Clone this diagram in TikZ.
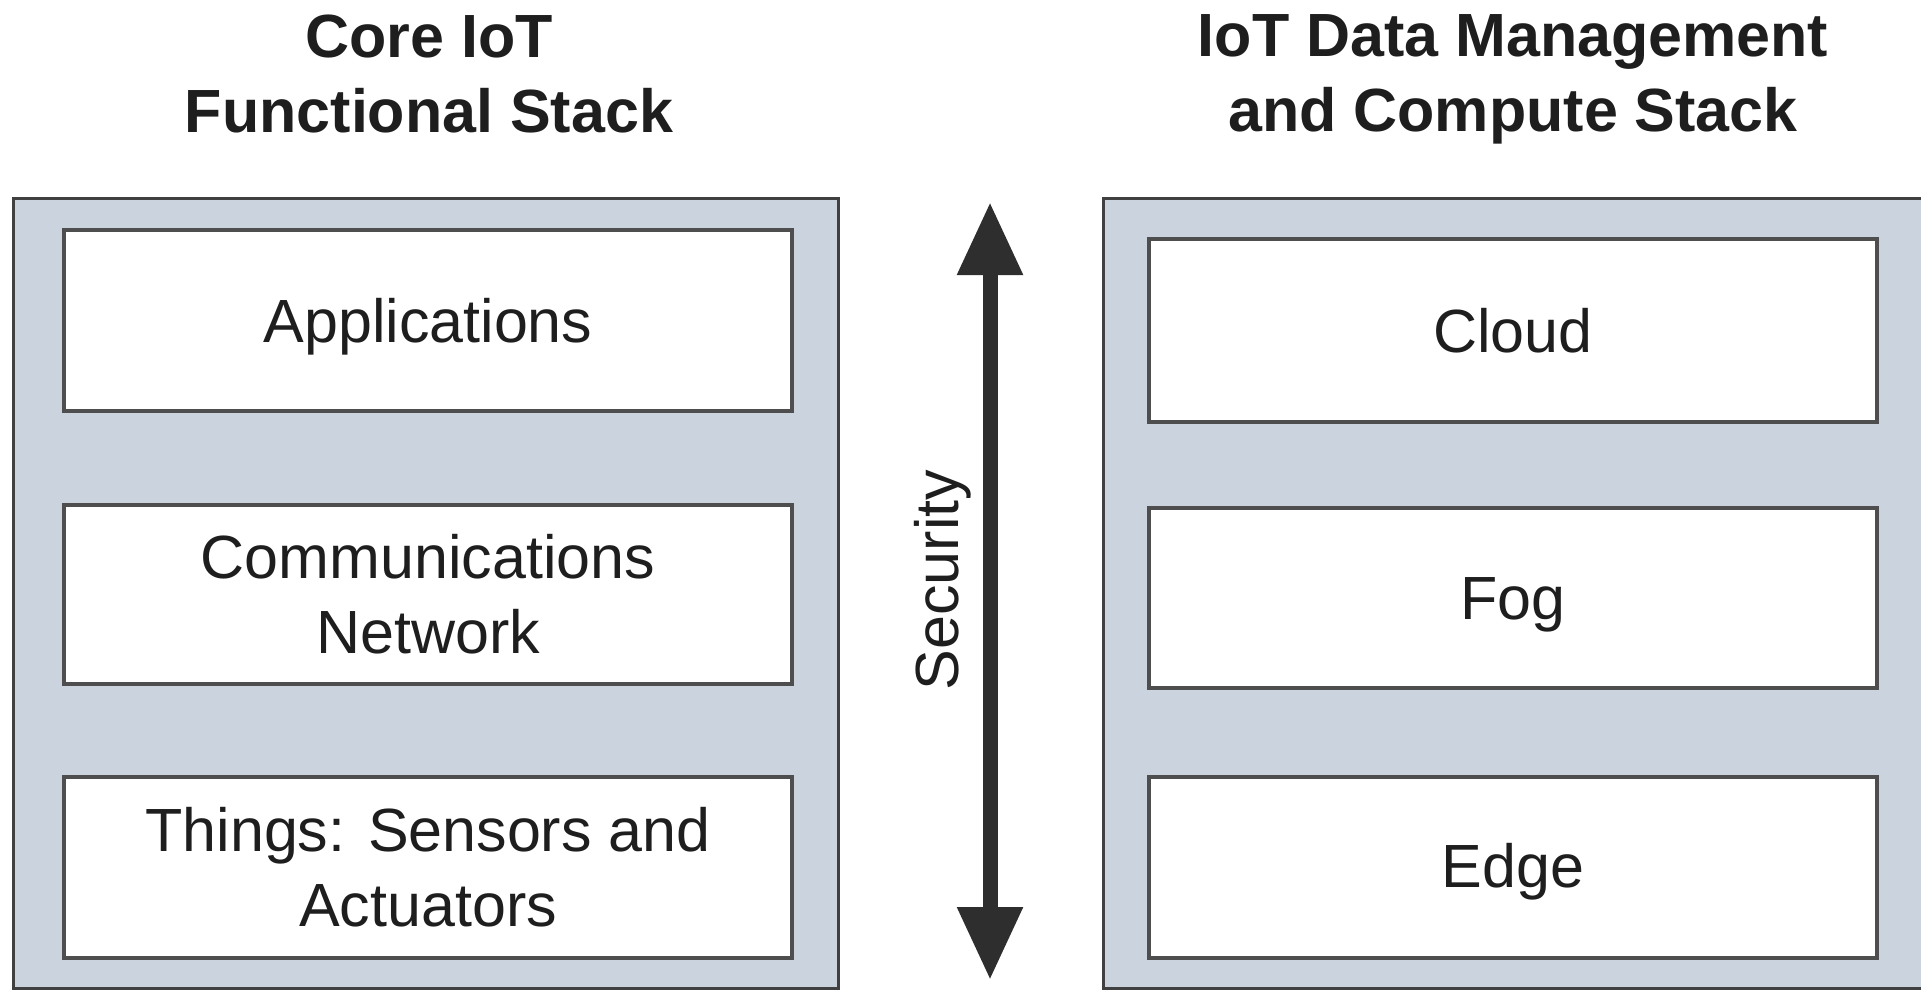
\documentclass[tikz,border=0pt]{standalone}
\usepackage{fontspec}
\setmainfont{Liberation Sans}
\usetikzlibrary{arrows.meta}
\definecolor{panelfill}{RGB}{203,211,223}
\definecolor{panelline}{RGB}{64,64,64}
\definecolor{boxline}{RGB}{78,78,78}
\definecolor{inkdark}{RGB}{30,30,30}
\definecolor{arrowdark}{RGB}{46,46,46}
\tikzset{
  panel/.style={draw=panelline, fill=panelfill, line width=3pt},
  stackbox/.style={draw=boxline, fill=white, line width=4pt, inner sep=0pt, rectangle},
  lbl/.style={text=inkdark, inner sep=0pt, font=\fontsize{61}{73}\selectfont, anchor=base},
  ttl/.style={text=inkdark, inner sep=0pt, font=\fontsize{61}{75}\selectfont\bfseries, anchor=base},
  secarrow/.style={draw=arrowdark, line width=15pt,
     {Triangle[length=73pt,width=62pt]}-{Triangle[length=73pt,width=62pt]}}
}
\begin{document}
\begin{tikzpicture}[x=1pt,y=-1pt]
\useasboundingbox (0,0) rectangle (1921,989);
\clip (0,0) rectangle (1921,989);
% titles
\node[ttl] (t1a) at (429,57) {Core IoT};
\node[ttl] (t1b) at (429,132) {Functional Stack};
\node[ttl] (t2a) at (1513,56) {IoT Data Management};
\node[ttl] (t2b) at (1513,131) {and Compute Stack};
% panels
\draw[panel] (13,198) rectangle (838,988);
\draw[panel] (1103,198) rectangle (1945,988);
% left stack
\node[stackbox, minimum width=728pt, minimum height=181pt] (app) at (428,320.5) {};
\node[stackbox, minimum width=728pt, minimum height=179pt] (comm) at (428,594.5) {};
\node[stackbox, minimum width=728pt, minimum height=181pt] (things) at (428,867.5) {};
\node[lbl] (appL) at (428,342) {Applications};
\node[lbl] (commL1) at (428,578) {Communications};
\node[lbl] (commL2) at (428,653) {Network};
\node[lbl] (thingsL1) at (428,851) {Things: Sensors and};
\node[lbl] (thingsL2) at (428,926) {Actuators};
% right stack
\node[stackbox, minimum width=728pt, minimum height=183pt] (cloud) at (1513,330.5) {};
\node[stackbox, minimum width=728pt, minimum height=180pt] (fog) at (1513,598) {};
\node[stackbox, minimum width=728pt, minimum height=181pt] (edge) at (1513,867.5) {};
\node[lbl] (cloudL) at (1513,352) {Cloud};
\node[lbl] (fogL) at (1513,619) {Fog};
\node[lbl] (edgeL) at (1513,887) {Edge};
% security arrow
\coordinate (secTop) at (990,202);
\coordinate (secBot) at (990,980);
\draw[secarrow] (secTop) -- (secBot);
\node[lbl, rotate=90] (sec) at (958,580) {Security};
\end{tikzpicture}
\end{document}
